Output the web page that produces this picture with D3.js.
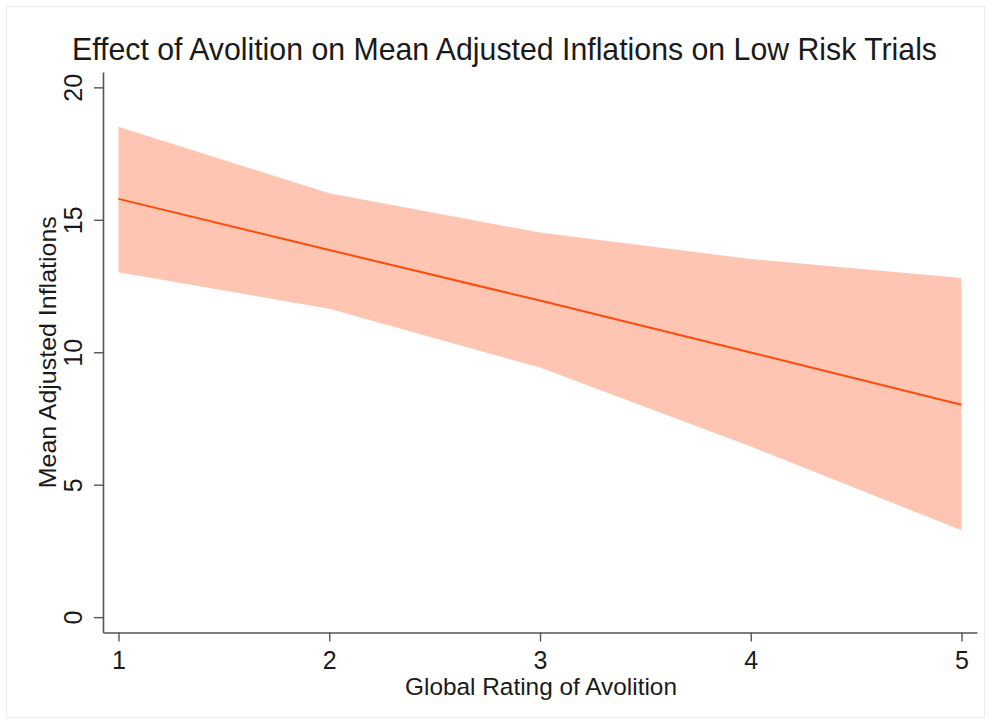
<!DOCTYPE html>
<html>
<head>
<meta charset="utf-8">
<script src="https://cdn.jsdelivr.net/npm/d3@7"></script>
<style>
  html, body { margin: 0; padding: 0; background: #fff; }
  svg { display: block; }
  text { font-family: "Liberation Sans", Arial, Helvetica, sans-serif; fill: #1a1a1a; }
</style>
</head>
<body>
<svg id="chart" width="990" height="723"></svg>
<script>
// ---- data ----
const titleText = "Effect of Avolition on Mean Adjusted Inflations on Low Risk Trials";
const xLabel = "Global Rating of Avolition";
const yLabel = "Mean Adjusted Inflations";
const avolition = [1, 2, 3, 4, 5];
const fitted    = [15.79, 13.86, 11.95, 9.99, 8.02];
const ciUpper   = [18.51, 16.00, 14.52, 13.52, 12.80];
const ciLower   = [13.02, 11.64, 9.42, 6.44, 3.28];
const xTicks = [1, 2, 3, 4, 5];
const yTicks = [0, 5, 10, 15, 20];

const rows = avolition.map((x, i) => ({x, fit: fitted[i], hi: ciUpper[i], lo: ciLower[i]}));

const svg = d3.select("#chart");

// outer frame
svg.append("rect").attr("x", 6.5).attr("y", 6.5).attr("width", 978).attr("height", 711)
  .attr("fill", "#fff").attr("stroke", "#ececec").attr("stroke-width", 1);

const plotL = 103, plotR = 977, plotT = 72, plotB = 632.5;
const x = d3.scaleLinear().domain([0.9265, 5.0735]).range([plotL, plotR]);
const y = d3.scaleLinear().domain([-0.58, 20.58]).range([plotB, plotT]);

// CI band
svg.append("path").datum(rows)
  .attr("fill", "#ffc5b3")
  .attr("d", d3.area().x(d => x(d.x)).y0(d => y(d.lo)).y1(d => y(d.hi)));

// fitted line
svg.append("path").datum(rows)
  .attr("fill", "none").attr("stroke", "#ff4a0a").attr("stroke-width", 2)
  .attr("d", d3.line().x(d => x(d.x)).y(d => y(d.fit)));

// axes
const axisColor = "#555";
const gx = svg.append("g").attr("transform", `translate(0,${plotB})`)
  .call(d3.axisBottom(x).tickValues(xTicks).tickFormat(d3.format("d")).tickSize(9).tickSizeOuter(0));
const gy = svg.append("g").attr("transform", `translate(${plotL},0)`)
  .call(d3.axisLeft(y).tickValues(yTicks).tickFormat(d3.format("d")).tickSize(9).tickSizeOuter(0));

[gx, gy].forEach(g => {
  g.select(".domain").attr("stroke", axisColor).attr("stroke-width", 1.6);
  g.selectAll(".tick line").attr("stroke", axisColor).attr("stroke-width", 1.4);
  g.selectAll("text").attr("font-family", "Liberation Sans, Arial, sans-serif")
    .attr("font-size", 25).attr("fill", "#1a1a1a");
});
gx.selectAll(".tick text").attr("dy", null).attr("y", 36);
gy.selectAll(".tick text")
  .attr("transform", "rotate(-90)")
  .attr("x", 0).attr("y", -21).attr("dy", null)
  .attr("text-anchor", "middle");

// title
svg.append("text").attr("x", 504.5).attr("y", 59.5)
  .attr("text-anchor", "middle").attr("font-size", 30.5)
  .attr("textLength", 865).attr("lengthAdjust", "spacingAndGlyphs")
  .text(titleText);

// x label
svg.append("text").attr("x", 541).attr("y", 695)
  .attr("text-anchor", "middle").attr("font-size", 24.5)
  .attr("textLength", 272).attr("lengthAdjust", "spacingAndGlyphs")
  .text(xLabel);

// y label
svg.append("text").attr("transform", `translate(56,${y(10)}) rotate(-90)`)
  .attr("text-anchor", "middle").attr("font-size", 24.5)
  .attr("textLength", 272).attr("lengthAdjust", "spacingAndGlyphs")
  .text(yLabel);
</script>
</body>
</html>
